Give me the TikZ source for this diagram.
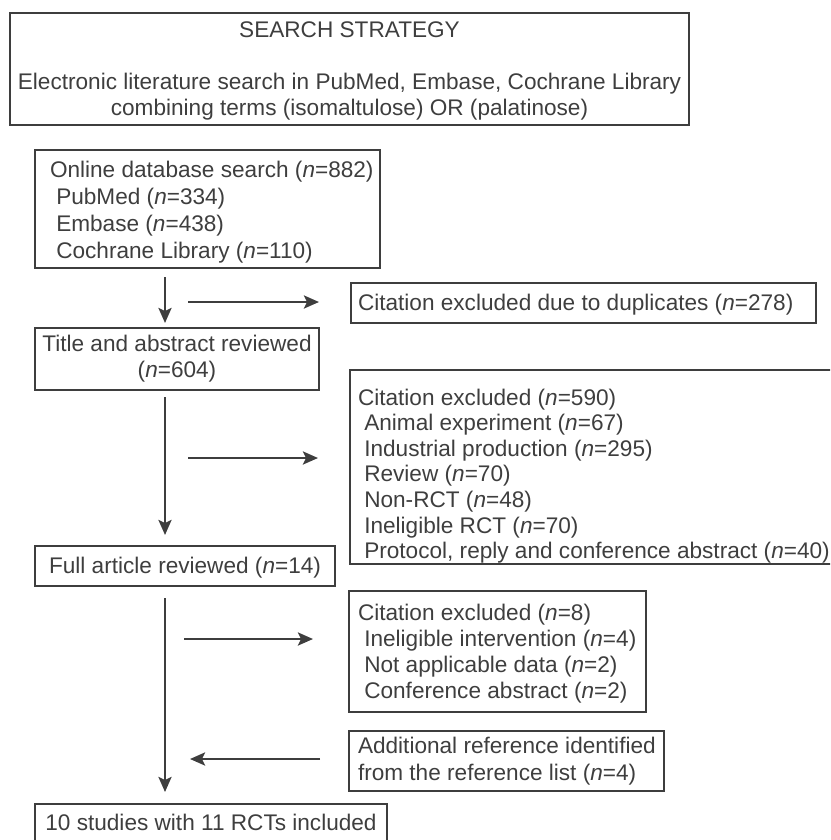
\documentclass[tikz,border=0pt]{standalone}
\usepackage{fontspec}
\setmainfont{Liberation Sans}
\usetikzlibrary{arrows.meta}
\definecolor{ink}{RGB}{62,62,62}
% #1 width, #2 left pad, #3 baselineskip, #4 rows
\newcommand\lbox[4]{\makebox[#1][l]{\hspace*{#2}{\fontsize{22.6}{#3}\selectfont\begin{tabular}[t]{@{}l@{}}#4\end{tabular}}}}
% #1 width, #2 baselineskip, #3 rows
\newcommand\cbox[3]{\makebox[#1][c]{{\fontsize{22.6}{#2}\selectfont\begin{tabular}[t]{@{}c@{}}#3\end{tabular}}}}
\newcommand\ind{\hspace*{0.278em}}
\newcommand\nn{\textit{n}}
\begin{document}
\begin{tikzpicture}[x=1pt,y=-1pt,
  font=\fontsize{22.6}{26.3}\selectfont,
  boxnode/.style={draw=ink, line width=2pt, inner sep=0pt, anchor=north west, text=ink},
  flow/.style={draw=ink, line width=2.6pt, -{Stealth[length=15pt,width=13pt,inset=3pt]}}]
\useasboundingbox (0,0) rectangle (830,840);
\clip (0,0) rectangle (830,840);

\node[boxnode, minimum width=679pt, minimum height=112pt, text height=25pt, text depth=87pt] (strategy) at (9,12)
  {\cbox{679pt}{26pt}{SEARCH STRATEGY\\[26pt]Electronic literature search in PubMed, Embase, Cochrane Library\\combining terms (isomaltulose) OR (palatinose)}};

\node[boxnode, minimum width=345pt, minimum height=118pt, text height=27pt, text depth=91pt] (online) at (34,149)
  {\lbox{345pt}{15pt}{27pt}{Online database search (\nn=882)\\\ind PubMed (\nn=334)\\\ind Embase (\nn=438)\\\ind Cochrane Library (\nn=110)}};

\node[boxnode, minimum width=284pt, minimum height=62pt, text height=23pt, text depth=39pt] (title) at (34,327)
  {\cbox{284pt}{26.3pt}{Title and abstract reviewed\\(\nn=604)}};

\node[boxnode, minimum width=300pt, minimum height=40pt, text height=27pt, text depth=13pt] (full) at (34,545)
  {\cbox{300pt}{26.3pt}{Full article reviewed (\nn=14)}};

\node[boxnode, minimum width=352pt, minimum height=40pt, text height=26pt, text depth=14pt] (final) at (34,803)
  {\cbox{352pt}{26.3pt}{10 studies with 11 RCTs included}};

\node[boxnode, minimum width=465pt, minimum height=40pt, text height=27pt, text depth=13pt] (dup) at (350,282)
  {\lbox{465pt}{7pt}{26.3pt}{Citation excluded due to duplicates (\nn=278)}};

\node[boxnode, minimum width=500pt, minimum height=194pt, text height=35pt, text depth=159pt] (excl1) at (349,369)
  {\lbox{500pt}{8pt}{25.6pt}{Citation excluded (\nn=590)\\\ind Animal experiment (\nn=67)\\\ind Industrial production (\nn=295)\\\ind Review (\nn=70)\\\ind Non-RCT (\nn=48)\\\ind Ineligible RCT (\nn=70)\\\ind Protocol, reply and conference abstract (\nn=40)}};

\node[boxnode, minimum width=297pt, minimum height=121pt, text height=29pt, text depth=92pt] (excl2) at (348,590)
  {\lbox{297pt}{9pt}{26pt}{Citation excluded (\nn=8)\\\ind Ineligible intervention (\nn=4)\\\ind Not applicable data (\nn=2)\\\ind Conference abstract (\nn=2)}};

\node[boxnode, minimum width=315pt, minimum height=60pt, text height=22pt, text depth=38pt] (add) at (348,730)
  {\lbox{315pt}{9pt}{27pt}{Additional reference identified\\from the reference list (\nn=4)}};

\coordinate (spine) at (165,0);
\draw[flow, shorten <=8pt, shorten >=4pt] (online.south -| spine) -- (title.north -| spine);
\draw[flow, shorten <=6pt, shorten >=10pt] (title.south -| spine) -- (full.north -| spine);
\draw[flow, shorten <=11pt, shorten >=11pt] (full.south -| spine) -- (final.north -| spine);

\coordinate (h1s) at (188,302);
\coordinate (h2s) at (188,458);
\coordinate (h3s) at (184,639);
\coordinate (l1e) at (190,759);
\draw[flow, shorten >=31pt] (h1s) -- (h1s -| dup.west);
\draw[flow, shorten >=31pt] (h2s) -- (h2s -| excl1.west);
\draw[flow, shorten >=35pt] (h3s) -- (h3s -| excl2.west);
\draw[flow, shorten <=28pt] (l1e -| add.west) -- (l1e);
\end{tikzpicture}
\end{document}
